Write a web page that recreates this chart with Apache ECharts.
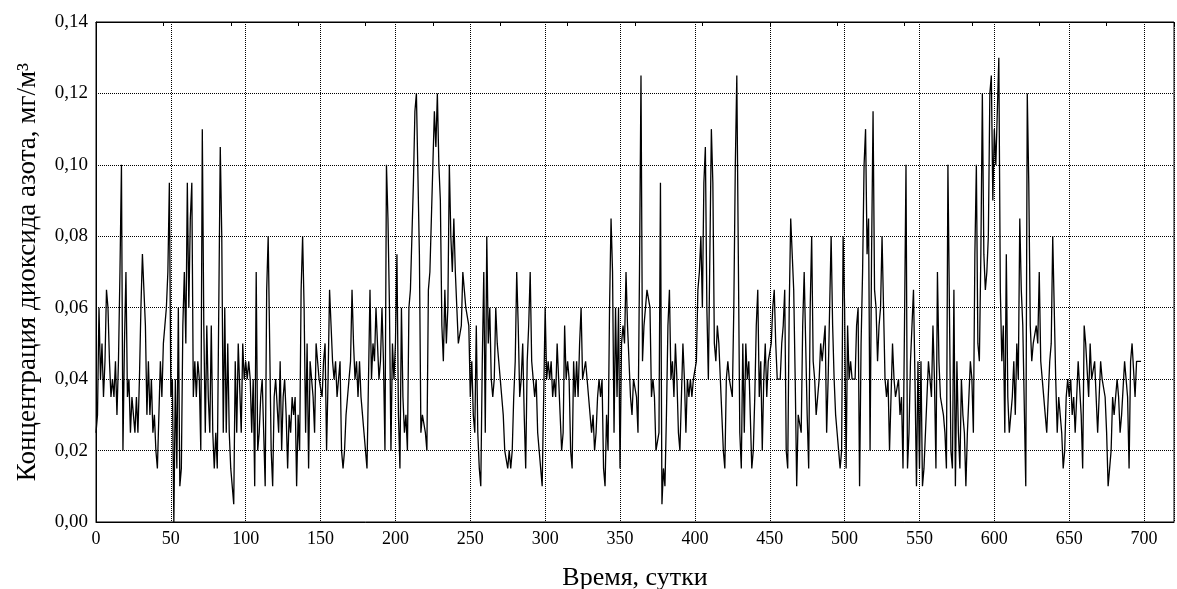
<!DOCTYPE html>
<html>
<head>
<meta charset="utf-8">
<script src="https://cdn.jsdelivr.net/npm/echarts@6/dist/echarts.min.js"></script>
<style>
  html, body { margin: 0; padding: 0; background: #fff; }
  #chart { width: 1177px; height: 589px; }
</style>
</head>
<body>
<div id="chart"></div>
<script>
// Daily NO2 concentration, mg/m3, day 0 .. 698, in blocks of 50 days
const days0 = [
  0.025,0.03,0.06,0.04,0.05,0.035,0.045,0.065,0.06,0.045,
  0.035,0.04,0.035,0.045,0.03,0.045,0.07,0.10,0.02,0.05,
  0.07,0.035,0.04,0.025,0.035,0.03,0.025,0.035,0.025,0.04,
  0.06,0.075,0.075,0.055,0.03,0.045,0.03,0.04,0.025,0.03,
  0.02,0.015,0.03,0.045,0.035,0.05,0.055,0.06,0.07,0.095
];
const days50 = [
  0.035,0.04,0.0,0.04,0.015,0.06,0.01,0.015,0.055,0.07,
  0.05,0.095,0.06,0.085,0.095,0.035,0.045,0.035,0.045,0.04,
  0.02,0.11,0.055,0.025,0.055,0.035,0.025,0.055,0.025,0.015,
  0.025,0.015,0.06,0.105,0.08,0.025,0.06,0.025,0.05,0.025,
  0.015,0.01,0.005,0.045,0.025,0.05,0.05,0.025,0.05,0.04
];
const days100 = [
  0.045,0.04,0.045,0.04,0.025,0.04,0.01,0.07,0.02,0.025,
  0.035,0.04,0.025,0.01,0.065,0.08,0.05,0.02,0.01,0.035,
  0.04,0.04,0.025,0.045,0.02,0.035,0.04,0.03,0.015,0.03,
  0.025,0.035,0.03,0.035,0.01,0.03,0.02,0.065,0.08,0.06,
  0.025,0.05,0.015,0.045,0.04,0.035,0.025,0.05,0.045,0.04
];
const days150 = [
  0.04,0.035,0.045,0.05,0.02,0.04,0.065,0.055,0.045,0.04,
  0.045,0.035,0.04,0.045,0.02,0.015,0.02,0.03,0.035,0.04,
  0.045,0.065,0.05,0.04,0.045,0.035,0.045,0.035,0.03,0.025,
  0.02,0.015,0.04,0.065,0.04,0.05,0.045,0.06,0.06,0.04,
  0.045,0.06,0.045,0.02,0.10,0.085,0.06,0.02,0.05,0.04
];
const days200 = [
  0.05,0.075,0.03,0.015,0.06,0.035,0.025,0.03,0.02,0.06,
  0.065,0.08,0.095,0.115,0.12,0.12,0.075,0.025,0.03,0.03,
  0.025,0.02,0.065,0.07,0.085,0.085,0.115,0.105,0.12,0.10,
  0.09,0.055,0.045,0.065,0.05,0.06,0.10,0.08,0.07,0.085,
  0.07,0.06,0.05,0.05,0.055,0.07,0.065,0.06,0.06,0.055
];
const days250 = [
  0.035,0.045,0.03,0.025,0.055,0.025,0.015,0.01,0.045,0.07,
  0.025,0.08,0.05,0.06,0.04,0.035,0.04,0.06,0.05,0.045,
  0.04,0.035,0.03,0.02,0.02,0.015,0.02,0.015,0.02,0.035,
  0.045,0.07,0.055,0.035,0.04,0.05,0.03,0.015,0.045,0.055,
  0.07,0.045,0.04,0.035,0.04,0.025,0.02,0.015,0.01,0.01
];
const days300 = [
  0.06,0.04,0.045,0.04,0.045,0.035,0.04,0.035,0.05,0.04,
  0.03,0.02,0.025,0.055,0.04,0.045,0.04,0.02,0.015,0.045,
  0.035,0.045,0.035,0.05,0.06,0.04,0.04,0.045,0.04,0.035,
  0.03,0.025,0.03,0.02,0.025,0.035,0.04,0.035,0.04,0.015,
  0.01,0.03,0.02,0.06,0.085,0.07,0.025,0.06,0.035,0.06
];
const days350 = [
  0.015,0.05,0.055,0.05,0.07,0.055,0.045,0.035,0.03,0.04,
  0.04,0.035,0.025,0.07,0.125,0.045,0.055,0.055,0.065,0.065,
  0.06,0.035,0.04,0.035,0.02,0.02,0.025,0.095,0.005,0.015,
  0.01,0.03,0.055,0.065,0.04,0.045,0.035,0.05,0.04,0.025,
  0.02,0.035,0.05,0.04,0.025,0.04,0.035,0.04,0.035,0.04
];
const days400 = [
  0.04,0.045,0.065,0.07,0.08,0.06,0.095,0.105,0.06,0.04,
  0.04,0.11,0.095,0.05,0.045,0.055,0.05,0.04,0.03,0.02,
  0.015,0.04,0.045,0.04,0.04,0.035,0.06,0.10,0.125,0.075,
  0.025,0.015,0.05,0.025,0.05,0.04,0.045,0.03,0.015,0.02,
  0.035,0.055,0.065,0.035,0.045,0.02,0.04,0.05,0.035,0.045
];
const days450 = [
  0.045,0.05,0.06,0.065,0.05,0.04,0.04,0.04,0.05,0.055,
  0.065,0.02,0.015,0.06,0.085,0.085,0.065,0.04,0.01,0.03,
  0.03,0.025,0.055,0.07,0.05,0.03,0.015,0.06,0.08,0.045,
  0.04,0.03,0.035,0.04,0.05,0.045,0.045,0.055,0.025,0.04,
  0.06,0.08,0.055,0.04,0.03,0.025,0.02,0.015,0.02,0.08
];
const days500 = [
  0.06,0.015,0.055,0.04,0.045,0.04,0.04,0.04,0.055,0.06,
  0.01,0.05,0.07,0.10,0.11,0.075,0.085,0.02,0.075,0.115,
  0.065,0.06,0.045,0.055,0.06,0.08,0.06,0.04,0.035,0.04,
  0.02,0.035,0.05,0.04,0.035,0.035,0.04,0.03,0.035,0.015,
  0.055,0.10,0.015,0.025,0.045,0.055,0.065,0.04,0.01,0.045
];
const days550 = [
  0.015,0.045,0.01,0.015,0.025,0.035,0.045,0.04,0.035,0.055,
  0.04,0.015,0.07,0.045,0.035,0.035,0.03,0.025,0.015,0.10,
  0.06,0.02,0.015,0.065,0.01,0.045,0.025,0.015,0.04,0.03,
  0.025,0.01,0.025,0.035,0.045,0.04,0.025,0.075,0.10,0.05,
  0.045,0.075,0.12,0.075,0.065,0.07,0.08,0.12,0.125,0.09
];
const days600 = [
  0.11,0.10,0.10,0.13,0.065,0.045,0.055,0.025,0.075,0.035,
  0.025,0.03,0.035,0.045,0.03,0.05,0.04,0.085,0.065,0.055,
  0.055,0.01,0.12,0.095,0.055,0.045,0.05,0.05,0.055,0.05,
  0.07,0.045,0.04,0.04,0.03,0.025,0.035,0.045,0.05,0.08,
  0.06,0.04,0.025,0.035,0.035,0.025,0.015,0.02,0.035,0.04
];
const days650 = [
  0.035,0.04,0.03,0.035,0.025,0.035,0.045,0.045,0.03,0.015,
  0.055,0.05,0.05,0.035,0.05,0.04,0.04,0.045,0.035,0.025,
  0.025,0.045,0.04,0.04,0.035,0.025,0.01,0.015,0.02,0.035,
  0.03,0.03,0.04,0.035,0.025,0.03,0.03,0.045,0.04,0.035,
  0.015,0.045,0.05,0.05,0.035,0.045,0.045,0.045,0.045
];

const concentration = [].concat(days0, days50, days100, days150, days200, days250,
  days300, days350, days400, days450, days500, days550, days600, days650);

const xTitle = 'Время, сутки';
const yTitle = 'Концентрация диоксида азота, мг/м³';

const serif = "'Liberation Serif', 'Times New Roman', serif";
const points = concentration.map((v, day) => [day, v]);

const chart = echarts.init(document.getElementById('chart'), null, { renderer: 'canvas' });
chart.setOption({
  animation: false,
  backgroundColor: '#fff',
  grid: {
    left: 96, right: 3, top: 22, bottom: 67,
    outerBoundsMode: 'none', containLabel: false,
    show: true, borderColor: '#000', borderWidth: 1, backgroundColor: 'transparent'
  },
  xAxis: [{
    type: 'value', min: 0, max: 720, interval: 50, position: 'bottom',
    name: xTitle, nameLocation: 'middle', nameGap: 43,
    nameTextStyle: { fontFamily: serif, fontSize: 26, color: '#000' },
    axisLine: { show: true, lineStyle: { color: '#000', width: 1 } },
    axisTick: { show: false },
    axisLabel: {
      fontFamily: serif, fontSize: 18, color: '#000', margin: 8,
      showMaxLabel: false,
      formatter: v => (v % 50 === 0 ? String(v) : '')
    },
    splitLine: { show: true, lineStyle: { color: '#000', type: 'dotted', width: 1 } }
  }, {
    type: 'value', min: 0, max: 720, interval: 45, position: 'top',
    axisLine: { show: true, lineStyle: { color: '#000', width: 1 } },
    axisTick: { show: true, inside: true, length: 4, lineStyle: { color: '#000' } },
    axisLabel: { show: false },
    splitLine: { show: false }
  }],
  yAxis: {
    type: 'value', min: 0, max: 0.14, interval: 0.02,
    name: yTitle, nameLocation: 'middle', nameGap: 55, nameRotate: 90,
    nameTextStyle: { fontFamily: serif, fontSize: 27, color: '#000' },
    axisLine: { show: true, lineStyle: { color: '#000', width: 1 } },
    axisTick: { show: false },
    axisLabel: {
      fontFamily: serif, fontSize: 19, color: '#000', margin: 8,
      formatter: v => v.toFixed(2).replace('.', ',')
    },
    splitLine: { show: true, lineStyle: { color: '#000', type: 'dotted', width: 1 } }
  },
  series: [{
    type: 'line',
    xAxisIndex: 0,
    data: points,
    showSymbol: false,
    lineStyle: { color: '#000', width: 1.3 },
    silent: true
  }]
});
</script>
</body>
</html>
